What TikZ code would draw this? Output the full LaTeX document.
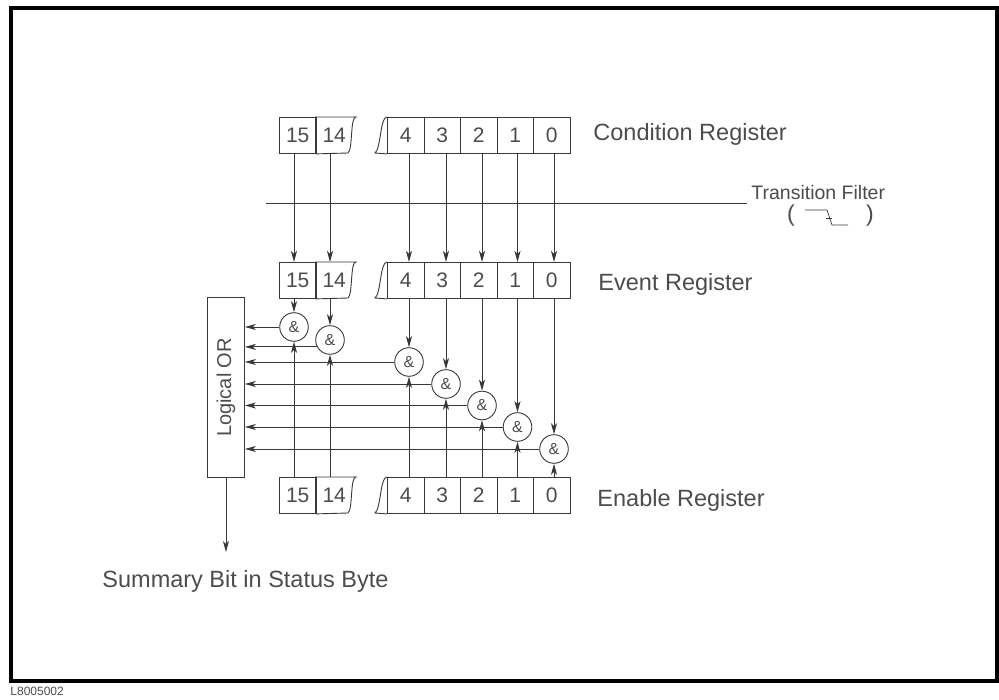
\documentclass[tikz,border=0pt]{standalone}
\usepackage{fontspec}
\setmainfont{Liberation Sans}
\usepackage{graphicx}
\usetikzlibrary{arrows.meta,positioning,calc}
\definecolor{regink}{gray}{0.22}
\definecolor{regtext}{gray}{0.30}

\begin{document}
\begin{tikzpicture}[
  x=1pt, y=-1pt,
  line width=0.9pt, draw=regink,
  cell/.style={draw, minimum width=36.5pt, minimum height=36pt, inner sep=0pt,
               anchor=north west, text=regtext, font=\fontsize{21}{24}\selectfont},
  opencell/.style={cell, draw=none},
  andgate/.style={draw, circle, minimum size=28.6pt, inner sep=0pt, fill=white,
                  text=regtext, font=\fontsize{16}{18}\selectfont},
  reglabel/.style={anchor=base west, inner sep=0pt, text=regtext,
                   font=\fontsize{23.5}{28}\selectfont},
  arr/.style={-{Stealth[length=11pt, width=6pt, inset=3pt]}, regink}
]
\useasboundingbox (0,0) rectangle (999,700);
\draw[line width=4pt, black] (10.5,8.5) rectangle (997,680.5);

% registers
\foreach \reg/\ty in {cond/117, ev/262, en/477} {
  \node[cell] (\reg15) at (279,\ty) {15};
  \node[opencell] (\reg14) at (315.5,\ty) {14};
  \foreach \b/\bx in {4/387, 3/423.5, 2/460, 1/496.5, 0/533}
    \node[cell] (\reg\b) at (\bx,\ty) {\b};
  % broken ends
  \draw (\reg14.south west) -- (\reg14.north west) -- ++(40.5,0)
    .. controls +(-6,0) and +(5,-4) .. ++(-8,36) -- (\reg14.south west);
  \draw (\reg4.north west) .. controls +(-7,0) and +(6,-4) .. ++(-12,36)
    -- (\reg4.south west);
}

\node[reglabel] (condlbl) at (593,140.7) {Condition Register};
\node[reglabel] (evlbl) at (598,291) {Event Register};
\node[reglabel] (enlbl) at (597,506) {Enable Register};

% transition filter
\coordinate (tfl) at (266,203);
\coordinate (tfr) at (747,203);
\draw (tfl) -- (tfr);
\node[reglabel, font=\fontsize{19.5}{23}\selectfont] (tflbl) at (751,200) {Transition Filter};
\node[text=regtext, font=\fontsize{23}{26}\selectfont, inner sep=0pt] (lpar) at (791,216) {(};
\node[text=regtext, font=\fontsize{23}{26}\selectfont, inner sep=0pt] (rpar) at (870,216) {)};
\draw[line width=0.7pt] (805,210) -- (827,210) -- (832,225) -- (848,225);
\draw[line width=0.7pt] (826,218) -- (832,218);

% logical OR
\node[draw, minimum width=37pt, minimum height=180pt, inner sep=0pt, anchor=north west,
      text=regtext, font=\fontsize{20}{24}\selectfont] (lor) at (207,297)
  {\rotatebox{90}{Logical OR}};

% and gates
\foreach \b/\gx/\gy in {15/294/327, 14/330/340, 4/409/362, 3/446/384,
                        2/482/405.5, 1/517.5/427, 0/554/449}
  \node[andgate] (and\b) at (\gx,\gy) {\&};

\foreach \b in {15,14,4,3,2,1,0} {
  \draw[arr] (and\b |- cond\b.south) -- (and\b |- ev\b.north);
  \draw[arr] (and\b |- ev\b.south) -- (and\b.north);
  \draw[arr] (and\b |- en\b.north) -- (and\b.south);
}
\foreach \b in {15,4,3,2,1,0}
  \draw[arr] (and\b.west) -- (and\b.west -| lor.east);
\draw[arr] (and14.208) -- (and14.208 -| lor.east);

% summary bit
\coordinate (sumend) at (lor.south |- 0,552);
\draw[arr] (lor.south) -- (sumend);
\node[reglabel] (sumlbl) at (102,587) {Summary Bit in Status Byte};

\node[reglabel, font=\fontsize{12}{14}\selectfont] (figid) at (10,695) {L8005002};
\end{tikzpicture}
\end{document}
